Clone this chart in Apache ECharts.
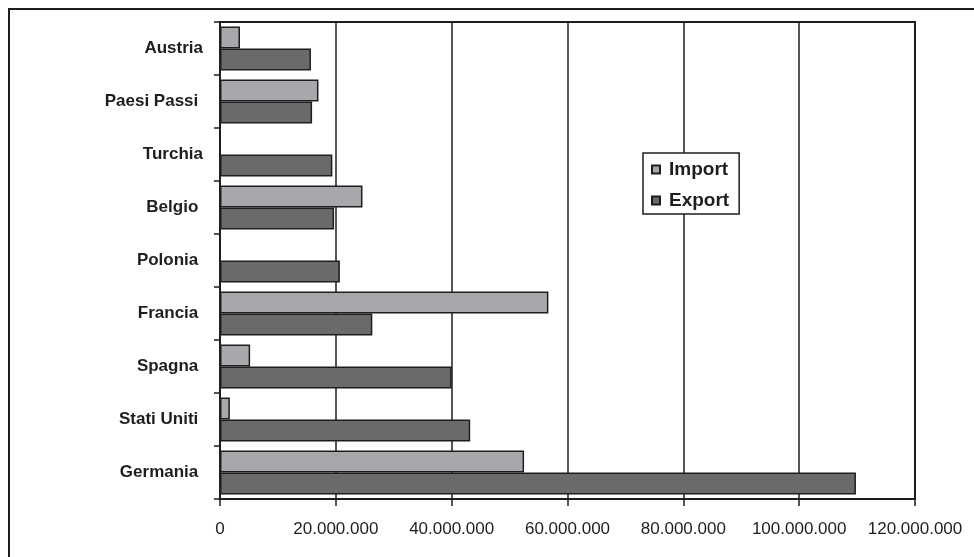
<!DOCTYPE html>
<html>
<head>
<meta charset="utf-8">
<script src="https://cdn.jsdelivr.net/npm/echarts@6/dist/echarts.min.js"></script>
<style>
html,body{margin:0;padding:0;background:#fff;}
#c{width:974px;height:557px;}
</style>
</head>
<body>
<div id="c"></div>
<script>
// Categories top-to-bottom as in the picture
const categories = ['Austria', 'Paesi Passi ', 'Turchia', 'Belgio ', 'Polonia ', 'Francia ', 'Spagna ', 'Stati Uniti ', 'Germania '];
const importValues = [3450000, 17000000, 0, 24600000, 0, 56700000, 5200000, 1700000, 52500000];
const exportValues = [15700000, 15900000, 19400000, 19700000, 20700000, 26300000, 40000000, 43200000, 109800000];
const xTicks = { min: 0, max: 120000000, interval: 20000000 };

function fmt(v) {
  return String(Math.round(v)).replace(/\B(?=(\d{3})+(?!\d))/g, '.');
}

const chart = echarts.init(document.getElementById('c'));
chart.setOption({
  animation: false,
  backgroundColor: '#fff',
  graphic: [{
    type: 'rect',
    shape: { x: 9, y: 9, width: 1000, height: 600 },
    style: { fill: 'none', stroke: '#1e1e1e', lineWidth: 2 },
    silent: true
  }],
  grid: {
    left: 220, right: 59, top: 22, bottom: 58,
    show: true, borderColor: '#1e1e1e', borderWidth: 2, backgroundColor: 'transparent'
  },
  legend: {
    data: ['Import', 'Export'],
    orient: 'vertical',
    left: 643, top: 153,
    backgroundColor: '#fff',
    borderColor: '#1e1e1e', borderWidth: 1.5,
    padding: [7, 10, 4, 8],
    itemWidth: 8, itemHeight: 8, itemGap: 12,
    icon: 'rect',
    textStyle: { fontFamily: 'Liberation Sans, Arial', fontWeight: 'bold', fontSize: 19, color: '#1e1e1e', lineHeight: 18, padding: [0, 0, 0, 4] }
  },
  xAxis: {
    type: 'value',
    min: xTicks.min, max: xTicks.max, interval: xTicks.interval,
    axisLine: { show: true, lineStyle: { color: '#1e1e1e', width: 2 } },
    axisTick: { show: true, length: 7, lineStyle: { color: '#1e1e1e', width: 1.5 } },
    splitLine: { show: true, lineStyle: { color: '#1e1e1e', width: 1.5 } },
    axisLabel: { formatter: fmt, margin: 22, fontFamily: 'Liberation Sans, Arial', fontSize: 17, color: '#1e1e1e' }
  },
  yAxis: {
    type: 'category',
    data: categories,
    inverse: true,
    axisLine: { show: true, lineStyle: { color: '#1e1e1e', width: 2 } },
    axisTick: { show: true, length: 6, lineStyle: { color: '#1e1e1e', width: 1.5 } },
    axisLabel: { margin: 17, fontFamily: 'Liberation Sans, Arial', fontWeight: 'bold', fontSize: 17, color: '#1e1e1e' }
  },
  series: [
    {
      name: 'Import', type: 'bar', data: importValues,
      barGap: '0%', barCategoryGap: '17%',
      itemStyle: { color: '#a7a8ac', borderColor: '#1e1e1e', borderWidth: 1.5 }
    },
    {
      name: 'Export', type: 'bar', data: exportValues,
      itemStyle: { color: '#6a6a6d', borderColor: '#1e1e1e', borderWidth: 1.5 }
    }
  ]
});
</script>
</body>
</html>
